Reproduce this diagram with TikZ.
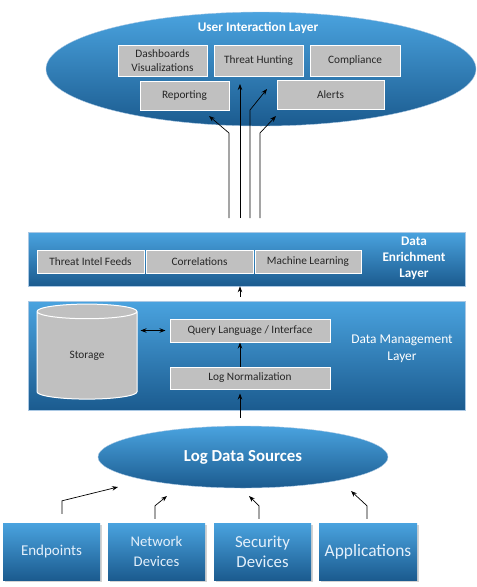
\documentclass[tikz,border=0pt]{standalone}
\usepackage{fontspec}
\setmainfont{Carlito}
\usepackage{tikz}
\usetikzlibrary{shapes.geometric,arrows.meta,shadows}

\definecolor{layertop}{RGB}{74,163,223}
\definecolor{layerbottom}{RGB}{27,91,143}
\definecolor{layeredge}{RGB}{170,200,228}
\definecolor{boxgray}{RGB}{192,192,192}
\definecolor{palettext}{RGB}{228,240,251}

\begin{document}
\begin{tikzpicture}[x=1pt,y=-1pt,>={Stealth[length=6pt,width=4.5pt]},
   layer band/.style={rectangle,top color=layertop,bottom color=layerbottom,draw=layeredge,line width=0.6pt,inner sep=0pt},
   layer ellipse/.style={ellipse,top color=layertop,bottom color=layerbottom,draw=layeredge,line width=0.4pt,inner sep=0pt},
   layer title/.style={text=white,font=\fontsize{13.2}{16}\selectfont\bfseries,align=center},
   gray box/.style={rectangle,fill=boxgray,draw=white,line width=1pt,inner sep=0pt,align=center,text=black!85,font=\fontsize{11.3}{14}\selectfont},
   source box/.style={rectangle,top color=layertop,bottom color=layerbottom,minimum width=97pt,minimum height=57pt,inner sep=0pt,align=center,text=palettext,drop shadow={opacity=0.35,shadow xshift=2pt,shadow yshift=-2pt}},
   link/.style={->,line width=0.7pt}]

  \useasboundingbox (0,0) rectangle (477,587);

  % user interaction layer
  \node[layer ellipse,minimum width=430pt,minimum height=114pt](ui) at (261,69) {};
  \node[layer title](ui title) at (258,28) {User Interaction Layer};
  \node[gray box,minimum width=89pt,minimum height=31pt](dash) at (162.5,60.5) {Dashboards\\Visualizations};
  \node[gray box,minimum width=89pt,minimum height=31pt](hunt) at (258.5,60.5) {Threat Hunting};
  \node[gray box,minimum width=90pt,minimum height=31pt](compl) at (355,60.5) {Compliance};
  \node[gray box,minimum width=89pt,minimum height=29pt](report) at (184.5,95.5) {Reporting};
  \node[gray box,minimum width=107pt,minimum height=29pt](alerts) at (330.5,94.5) {Alerts};

  % data enrichment layer
  \node[layer band,minimum width=437pt,minimum height=54pt](enrich) at (246.5,259) {};
  \node[gray box,minimum width=107pt,minimum height=23pt](feeds) at (90.5,261.5) {Threat Intel Feeds};
  \node[gray box,minimum width=107pt,minimum height=23pt](corr) at (199.5,261.5) {Correlations};
  \node[gray box,minimum width=106pt,minimum height=23pt](ml) at (308,261.5) {Machine Learning};
  \node[layer title](enrich title) at (414,258) {Data\\Enrichment\\Layer};

  % data management layer
  \node[layer band,minimum width=437pt,minimum height=109pt](mgmt) at (246.5,355.5) {};
  \node[cylinder,shape border rotate=90,shape aspect=0.42,fill=boxgray,draw=white,line width=1pt,
        minimum width=100pt,minimum height=95pt,inner sep=0pt,text=black!85,font=\fontsize{11.3}{14}\selectfont](storage) at (87,355.5) {Storage};
  \node[gray box,minimum width=160pt,minimum height=23pt](query) at (250,330.5) {Query Language / Interface};
  \node[gray box,minimum width=160pt,minimum height=22pt](norm) at (250,378) {Log Normalization};
  \node[text=white,font=\fontsize{13.4}{17}\selectfont,align=center](mgmt title) at (402,348.5) {Data Management\\Layer};

  % log sources
  \node[layer ellipse,minimum width=290pt,minimum height=62pt,text=white,font=\fontsize{16.8}{19}\selectfont\bfseries](sources) at (243,457) {Log Data Sources};
  \node[source box,font=\fontsize{15}{20}\selectfont](endp) at (51.5,551.5) {Endpoints};
  \node[source box,font=\fontsize{14.7}{20}\selectfont](netw) at (156.5,551.5) {Network\\Devices};
  \node[source box,font=\fontsize{16.8}{20}\selectfont](secu) at (262.5,551.5) {Security\\Devices};
  \node[source box,minimum width=98pt,font=\fontsize{17.4}{20}\selectfont](appl) at (368,551.5) {Applications};

  % arrows into the user interaction layer
  \coordinate (tip report) at (209,116);
  \coordinate (tip hunt) at (240,84);
  \coordinate (tip mid) at (267,89);
  \coordinate (tip alerts) at (276,116);
  \draw[link] (229,218) -- (229,133) -- (tip report);
  \draw[link] (240,218) -- (tip hunt);
  \draw[link] (250,218) -- (250,110) -- (tip mid);
  \draw[link] (260,218) -- (260,133) -- (tip alerts);

  % arrows between the layers
  \draw[link] ([xshift=-6.5pt,yshift=4pt]mgmt.north) -- (enrich.south -| 240,0);
  \draw[link] ([xshift=-10pt]norm.north) -- ([xshift=-10pt]query.south);
  \draw[<->,line width=0.7pt] (storage.east |- query.west) ++(3,0) -- ([xshift=-4pt]query.west);
  \draw[link] ([xshift=-3pt,yshift=8pt]sources.north) -- ([xshift=-10pt,yshift=-4pt]norm.south);

  % arrows from the sources
  \coordinate (tip endp) at (118,487);
  \coordinate (tip netw) at (167,496);
  \coordinate (tip secu) at (249,496);
  \coordinate (tip appl) at (351,491);
  \draw[link] ([xshift=10.5pt,yshift=9pt]endp.north) -- ++(0,-13) -- (tip endp);
  \draw[link] ([xshift=-1.5pt,yshift=4pt]netw.north) -- ++(0,-13) -- (tip netw);
  \draw[link] ([xshift=-3.5pt,yshift=4pt]secu.north) -- ++(0,-13) -- (tip secu);
  \draw[link] ([xshift=-1pt,yshift=4pt]appl.north) -- ++(0,-13) -- (tip appl);
\end{tikzpicture}
\end{document}
